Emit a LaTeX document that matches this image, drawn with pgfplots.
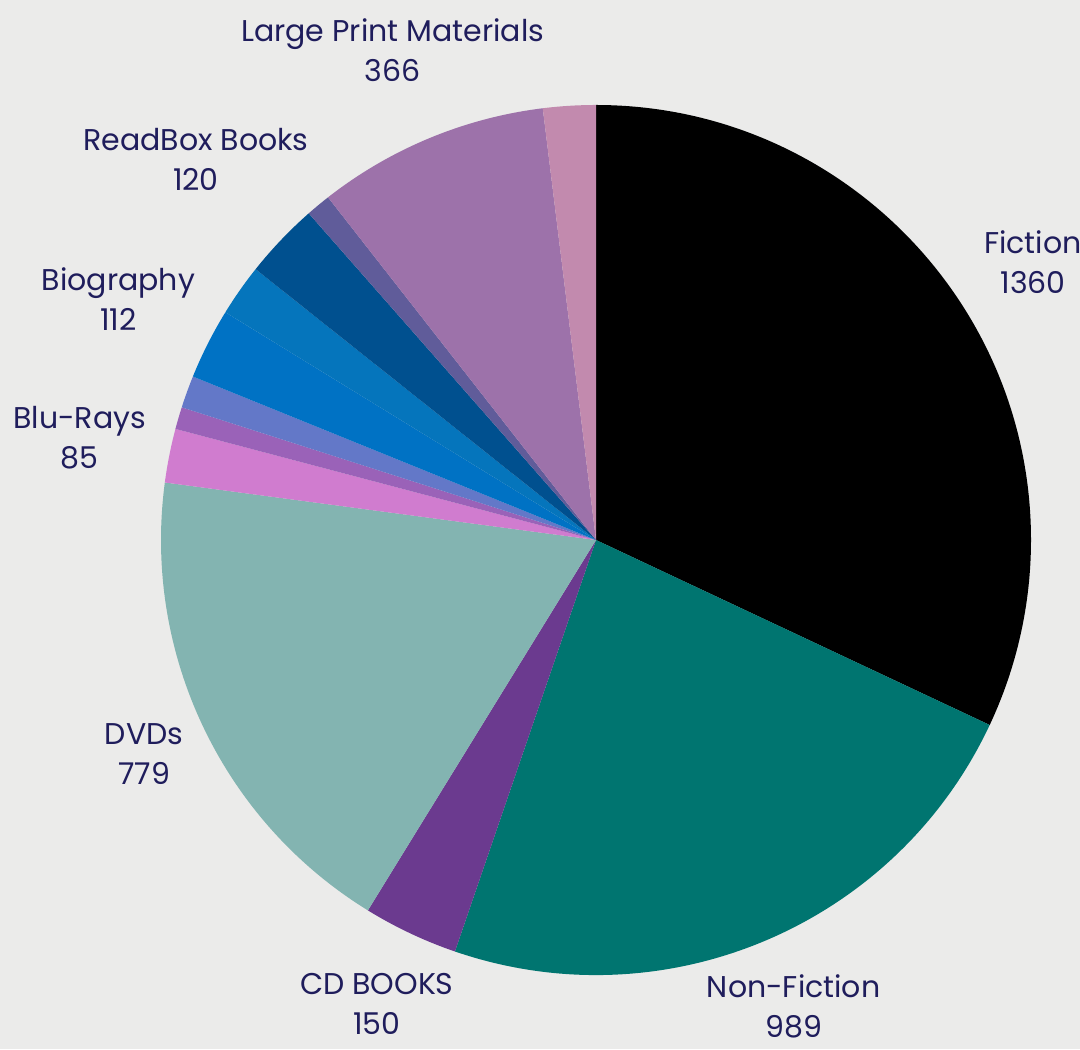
\documentclass[border=0pt]{standalone}
\usepackage{fontspec}
\setmainfont{Poppins}
\usepackage{pgfplots}
\usepackage{pgfplotstable}
\pgfplotsset{compat=1.18}

\definecolor{bgcol}{HTML}{EBEBEA}
\definecolor{labcol}{HTML}{1F1D5C}
\definecolor{sFic}{HTML}{000000}
\definecolor{sNon}{HTML}{007570}
\definecolor{sCd}{HTML}{6B3A8F}
\definecolor{sDvd}{HTML}{83B4B1}
\definecolor{sBlu}{HTML}{D07CCF}
\definecolor{sP1}{HTML}{9A62B8}
\definecolor{sP2}{HTML}{6378C8}
\definecolor{sBio}{HTML}{0072C4}
\definecolor{sB2}{HTML}{0575BC}
\definecolor{sRbx}{HTML}{00508F}
\definecolor{sSl}{HTML}{605C9A}
\definecolor{sLpm}{HTML}{9D72AA}
\definecolor{sMv}{HTML}{C28AAE}

% slices clockwise from 12 o'clock; show=1 gets a label, lr = label radius factor
\pgfplotstableread[col sep=comma]{
name,value,col,show,lr
Fiction,1360,sFic,1,1.19
Non-Fiction,989,sNon,1,1.165
CD BOOKS,150,sCd,1,1.18
DVDs,779,sDvd,1,1.15
Blu-Rays,85,sBlu,1,1.21
x,35,sP1,0,1
x,51,sP2,0,1
Biography,112,sBio,1,1.23
x,82,sB2,0,1
ReadBox Books,120,sRbx,1,1.27
x,39,sSl,0,1
Large Print Materials,366,sLpm,1,1.22
x,83,sMv,0,1
}\piedata

\newcommand\R{217.5pt}

\begin{document}
\begin{tikzpicture}
\begin{axis}[
  hide axis, scale only axis,
  width=540pt, height=524.5pt,
  xmin=0, xmax=1080, ymin=0, ymax=1049,
  clip=false,
]
\addplot[draw=none] coordinates {(0,0) (1080,1049)};
\pgfplotsextra{
  \fill[bgcol] (rel axis cs:0,0) rectangle (rel axis cs:1,1);
  \coordinate (bl) at (rel axis cs:0,0);
  \coordinate (tr) at (rel axis cs:1,1);
  \coordinate (ctr) at (axis cs:596,509);
  \pgfplotstablegetrowsof{\piedata}
  \pgfmathtruncatemacro\lastrow{\pgfplotsretval-1}
  \gdef\tot{0}
  \foreach \i in {0,...,\lastrow}{
    \pgfplotstablegetelem{\i}{value}\of\piedata
    \pgfmathsetmacro\tmp{\tot+\pgfplotsretval}
    \xdef\tot{\tmp}
  }
  \gdef\cum{0}
  \foreach \i in {0,...,\lastrow}{
    \pgfplotstablegetelem{\i}{value}\of\piedata \let\sv\pgfplotsretval
    \pgfplotstablegetelem{\i}{col}\of\piedata \let\scol\pgfplotsretval
    \pgfplotstablegetelem{\i}{name}\of\piedata \let\sname\pgfplotsretval
    \pgfplotstablegetelem{\i}{show}\of\piedata \let\sshow\pgfplotsretval
    \pgfplotstablegetelem{\i}{lr}\of\piedata \let\slr\pgfplotsretval
    \pgfmathsetmacro\aS{90-360*(\cum/\tot)}
    \pgfmathsetmacro\aE{90-360*((\cum+\sv)/\tot)}
    \pgfmathsetmacro\aM{(\aS+\aE)/2}
    \fill[\scol] (ctr) -- ++(\aS:\R) arc[start angle=\aS, end angle=\aE, radius=\R] -- cycle;
    \ifnum\sshow=1
      \node[align=center, text=labcol, font=\fontsize{15}{20}\selectfont]
        at ([shift={(\aM:\slr*\R)}]ctr) {\sname\\\sv};
    \fi
    \pgfmathsetmacro\tmp{\cum+\sv}
    \xdef\cum{\tmp}
  }
}
\end{axis}
\pgfresetboundingbox
\path[use as bounding box] (bl) rectangle (tr);
\end{tikzpicture}
\end{document}
